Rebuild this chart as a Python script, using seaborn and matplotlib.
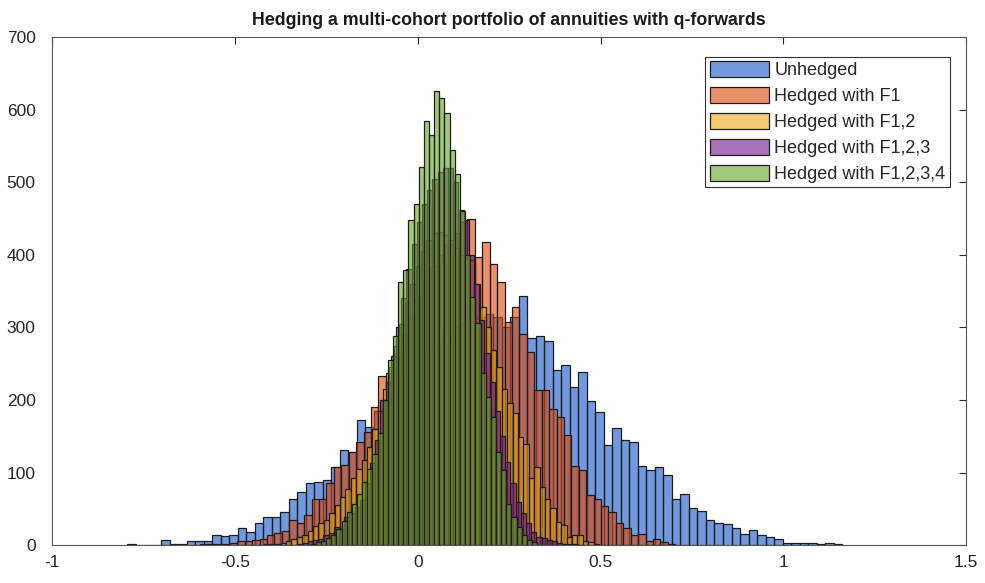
import numpy as np
import pandas as pd
import matplotlib
matplotlib.use('Agg')
import matplotlib.pyplot as plt
import seaborn as sns

sns.set_style("white")
plt.rcParams['font.family'] = ['Liberation Sans', 'DejaVu Sans']
plt.rcParams['axes.unicode_minus'] = False

# series labels and face colours (drawn at 60 % opacity)
series_names = ["Unhedged", "Hedged with F1", "Hedged with F1,2",
                "Hedged with F1,2,3", "Hedged with F1,2,3,4"]
series_colors = ["#1455C8", "#DC460A", "#EBA514", "#6E1487", "#64A523"]

# first bin edge and bin width of each histogram
bin_starts = [-0.795, -0.5951, -0.4194, -0.3295, -0.2929]
bin_widths = [0.02328, 0.0203, 0.014754, 0.014208, 0.01407]

# bin counts
unhedged = [2, 0, 0, 0, 7, 2, 2, 5, 5, 5,
            14, 12, 14, 23, 18, 31, 39, 39, 46, 64,
            73, 86, 87, 90, 108, 131, 128, 172, 163, 185,
            200, 215, 230, 245, 255, 268, 280, 290, 300, 305,
            310, 315, 318, 315, 300, 315, 344, 285, 288, 282,
            241, 248, 218, 239, 199, 184, 138, 161, 145, 142,
            109, 104, 107, 96, 64, 70, 51, 47, 35, 31,
            29, 23, 15, 21, 14, 11, 8, 3, 3, 3,
            3, 1, 3, 2]
hedged_f1 = [1, 1, 2, 2, 3, 5, 6, 7, 9, 14,
             17, 20, 34, 30, 41, 64, 64, 85, 108, 110,
             129, 142, 156, 191, 233, 237, 265, 290, 315, 340,
             365, 385, 400, 415, 430, 445, 450, 397, 418, 388,
             363, 308, 328, 291, 266, 214, 214, 188, 177, 152,
             109, 103, 69, 64, 54, 46, 30, 24, 14, 15,
             5, 8, 4, 1]
hedged_f12 = [1, 1, 2, 3, 6, 8, 11, 14, 20, 26,
              30, 34, 44, 55, 67, 78, 92, 105, 118, 135,
              160, 185, 215, 245, 275, 305, 335, 360, 385, 405,
              420, 430, 432, 428, 420, 410, 400, 395, 393, 360,
              328, 300, 269, 246, 215, 196, 182, 149, 140, 92,
              108, 80, 63, 51, 32, 28, 11, 14, 14, 5,
              4, 2]
hedged_f123 = [2, 3, 5, 7, 9, 14, 16, 25, 22, 39,
               44, 53, 62, 85, 113, 145, 200, 225, 260, 300,
               340, 380, 415, 445, 470, 490, 505, 515, 520, 520,
               500, 462, 448, 400, 360, 310, 265, 225, 185, 150,
               115, 85, 60, 44, 30, 18, 11, 10, 7, 5,
               3, 2, 1, 1]
hedged_f1234 = [2, 4, 6, 10, 14, 22, 33, 45, 57, 70,
                87, 105, 125, 155, 200, 255, 288, 363, 379, 448,
                470, 521, 585, 566, 626, 617, 596, 544, 512, 460,
                400, 342, 306, 237, 204, 177, 129, 103, 57, 39,
                25, 14, 7, 4]
all_counts = [unhedged, hedged_f1, hedged_f12, hedged_f123, hedged_f1234]

x_ticks = [-1, -0.5, 0, 0.5, 1, 1.5]
x_tick_labels = ["-1", "-0.5", "0", "0.5", "1", "1.5"]
y_ticks = [0, 100, 200, 300, 400, 500, 600, 700]

fig, ax = plt.subplots(figsize=(9.85, 5.83), dpi=100)
fig.subplots_adjust(left=0.053, right=0.981, bottom=0.065, top=0.936)

for name, color, start, width, counts in zip(series_names, series_colors,
                                               bin_starts, bin_widths, all_counts):
	edges = start + width * np.arange(len(counts) + 1)
	df = pd.DataFrame({"value": edges[:-1] + width / 2, "count": counts})
	sns.histplot(data=df, x="value", weights="count", bins=list(edges), color=color,
	             alpha=0.6, edgecolor='#1e1e1e', linewidth=0.9, label=name, ax=ax)

ax.set_xlim(-1, 1.5)
ax.set_ylim(0, 700)
ax.set_xticks(x_ticks)
ax.set_xticklabels(x_tick_labels)
ax.set_yticks(y_ticks)
ax.set_ylabel("")
ax.set_xlabel("")
ax.tick_params(direction='in', top=True, right=True, length=5, width=0.8,
               colors='#262626', labelsize=12.5)
ax.tick_params(axis='x', pad=7)
ax.tick_params(axis='y', pad=12)
for sp in ax.spines.values():
	sp.set_color('#555555')
	sp.set_linewidth(0.8)

ax.set_title("Hedging a multi-cohort portfolio of annuities with q-forwards",
             fontsize=12.8, fontweight='bold', color='#1a1a1a', pad=9)

leg = ax.legend(loc='upper right', bbox_to_anchor=(0.982, 0.962), fontsize=13,
                handlelength=3.3, handleheight=1.0, handletextpad=0.27,
                labelspacing=0.42, borderpad=0.25, borderaxespad=0,
                fancybox=False, framealpha=1, edgecolor='#333333')
leg.get_frame().set_linewidth(0.8)

plt.savefig("out.png", dpi=100)
plt.close()
